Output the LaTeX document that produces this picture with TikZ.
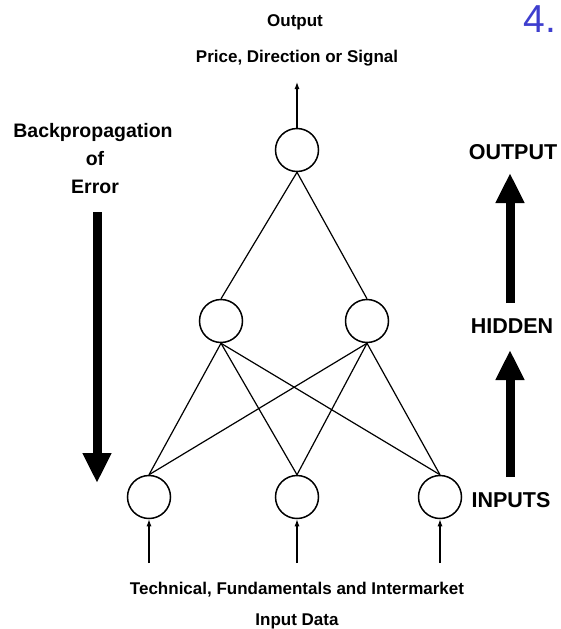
\documentclass[tikz,border=0pt]{standalone}
\usepackage{fontspec}
\setmainfont{Liberation Sans}
\usetikzlibrary{arrows.meta}
\definecolor{slideblue}{RGB}{62,62,206}
\colorlet{inkdark}{black}

\tikzset{
  neuron/.style={circle, draw=inkdark, line width=1.5pt, minimum size=43pt, inner sep=0pt},
  link/.style={inkdark, line width=1.2pt},
  feed/.style={inkdark, line width=1.2pt, -{Latex[length=7pt,width=5pt]}},
  bigarrow/.style={inkdark, line width=9pt, -{Triangle[width=27pt,length=30pt]}},
  caption/.style={font=\bfseries\fontsize{17}{20}\selectfont, inner sep=0pt},
  sidelabel/.style={font=\bfseries\fontsize{19.5}{22}\selectfont, inner sep=0pt},
  layerlabel/.style={font=\bfseries\fontsize{21.5}{24}\selectfont, inner sep=0pt}
}

\begin{document}
\begin{tikzpicture}[x=1pt, y=-1pt]
  \useasboundingbox (0,0) rectangle (560,629);

\node[font=\fontsize{39}{44}\selectfont, text=slideblue, inner sep=0pt] (slidenum) at (540,19) {4.};

\node[caption] (outlabel) at (295,22) {Output};
\node[caption] (outkind) at (297,58) {Price, Direction or Signal};
\coordinate (outtip) at (297,82);

\node[neuron] (out) at (297,150) {};
\node[neuron] (hidA) at (221,321) {};
\node[neuron] (hidB) at (367,321) {};
\node[neuron] (inA) at (149,497) {};
\node[neuron] (inB) at (297,497) {};
\node[neuron] (inC) at (440,497) {};

\draw[feed] (out.north) -- (outtip);
\draw[link] (out.south) -- (hidA.north);
\draw[link] (out.south) -- (hidB.north);
\foreach \h in {hidA,hidB}
  \foreach \i in {inA,inB,inC}
    \draw[link] (\h.south) -- (\i.north);

\coordinate (feedA) at (149,563);
\coordinate (feedB) at (297,563);
\coordinate (feedC) at (440,563);
\draw[feed] (feedA) -- (inA.south);
\draw[feed] (feedB) -- (inB.south);
\draw[feed] (feedC) -- (inC.south);

\node[caption] (inkind) at (297,590) {Technical, Fundamentals and Intermarket};
\node[caption] (indata) at (297,621) {Input Data};

\node[sidelabel] (bptop) at (93,132) {Backpropagation};
\node[sidelabel] (bpmid) at (95,159) {of};
\node[sidelabel] (bpend) at (95,187) {Error};
\coordinate (bpstart) at (97,212);
\coordinate (bptip) at (97,483);
\draw[bigarrow] (bpstart) -- (bptip);

\node[layerlabel] (lblout) at (513,152) {OUTPUT};
\node[layerlabel] (lblhid) at (512,326) {HIDDEN};
\node[layerlabel] (lblin) at (511,500) {INPUTS};
\coordinate (upAfoot) at (510,477);
\coordinate (upAtip) at (510,350);
\coordinate (upBfoot) at (510,303);
\coordinate (upBtip) at (510,173);
\draw[bigarrow] (upAfoot) -- (upAtip);
\draw[bigarrow] (upBfoot) -- (upBtip);

\end{tikzpicture}
\end{document}
